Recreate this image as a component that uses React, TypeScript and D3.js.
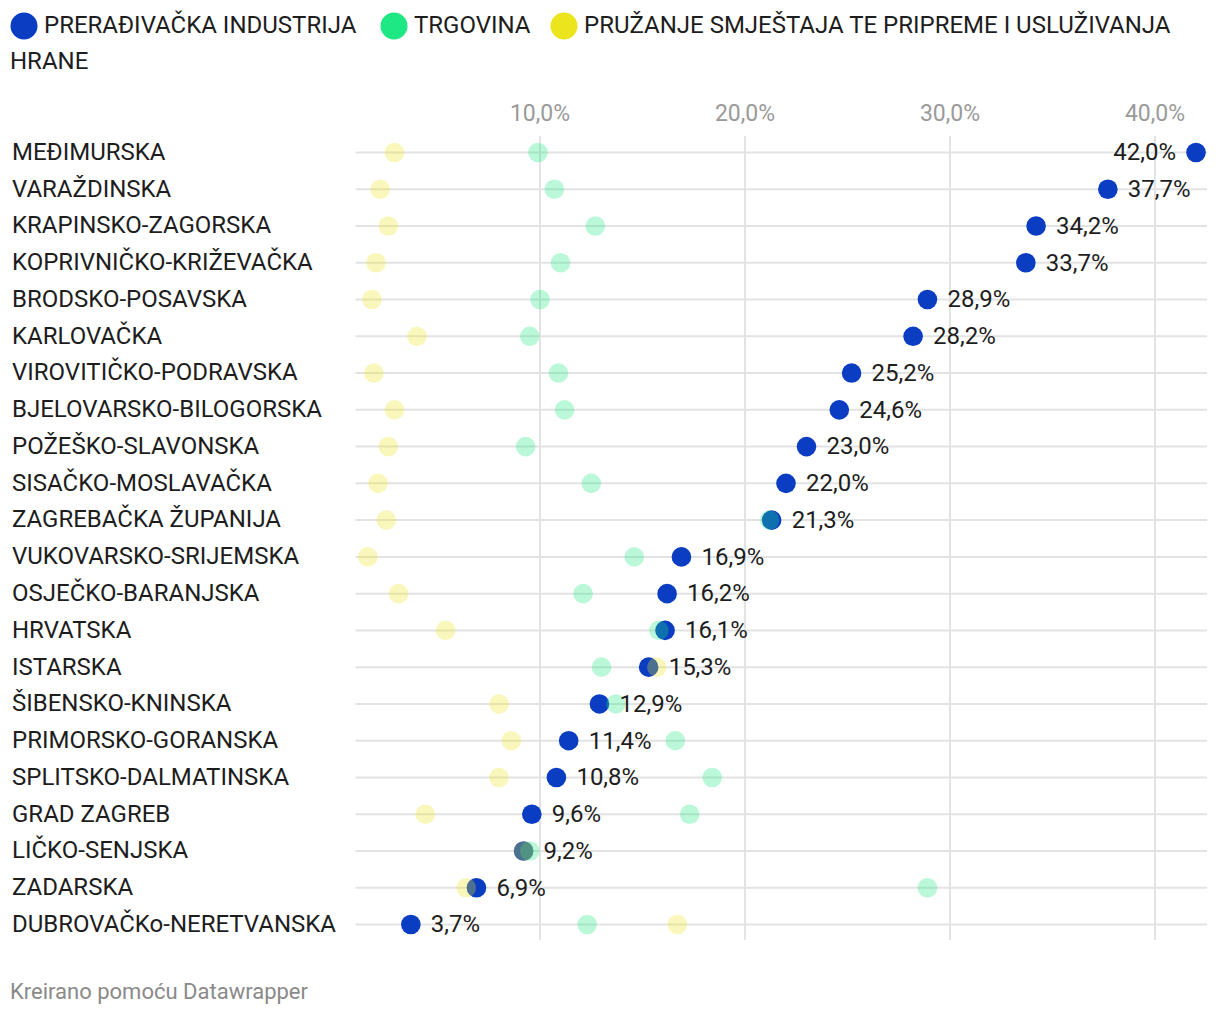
import React from "react";
import * as d3 from "d3";

const counties = [
  "MEĐIMURSKA", "VARAŽDINSKA", "KRAPINSKO-ZAGORSKA", "KOPRIVNIČKO-KRIŽEVAČKA",
  "BRODSKO-POSAVSKA", "KARLOVAČKA", "VIROVITIČKO-PODRAVSKA", "BJELOVARSKO-BILOGORSKA",
  "POŽEŠKO-SLAVONSKA", "SISAČKO-MOSLAVAČKA", "ZAGREBAČKA ŽUPANIJA", "VUKOVARSKO-SRIJEMSKA",
  "OSJEČKO-BARANJSKA", "HRVATSKA", "ISTARSKA", "ŠIBENSKO-KNINSKA",
  "PRIMORSKO-GORANSKA", "SPLITSKO-DALMATINSKA", "GRAD ZAGREB", "LIČKO-SENJSKA",
  "ZADARSKA", "DUBROVAČKo-NERETVANSKA",
];
const preradjivacka = [42.0, 37.7, 34.2, 33.7, 28.9, 28.2, 25.2, 24.6, 23.0, 22.0, 21.3, 16.9, 16.2, 16.1, 15.3, 12.9, 11.4, 10.8, 9.6, 9.2, 6.9, 3.7];
const trgovina = [9.9, 10.7, 12.7, 11.0, 10.0, 9.5, 10.9, 11.2, 9.3, 12.5, 21.2, 14.6, 12.1, 15.8, 13.0, 13.7, 16.6, 18.4, 17.3, 9.5, 28.9, 12.3];
const smjestaj = [2.9, 2.2, 2.6, 2.0, 1.8, 4.0, 1.9, 2.9, 2.6, 2.1, 2.5, 1.6, 3.1, 5.4, 15.7, 8.0, 8.6, 8.0, 4.4, 9.2, 6.4, 16.7];
const ticks = [10, 20, 30, 40];
const seriesNames = ["PRERAĐIVAČKA INDUSTRIJA", "TRGOVINA", "PRUŽANJE SMJEŠTAJA TE PRIPREME I USLUŽIVANJA"];

const BLUE = "#0a3dc2";
const GREEN = "#1ee883";
const YELLOW = "#ece41d";

export default function App() {
  const W = 1220, H = 1018;
  const x = d3.scaleLinear().domain([1, 42.5]).range([355.5, 1206.25]);
  const y = d3.scalePoint<string>().domain(counties).range([152.5, 924.5]);
  const fmt = (v: number) => v.toFixed(1).replace(".", ",") + "%";
  const font = "Roboto, sans-serif";
  const r = 9.8;

  return (
    <svg width={W} height={H} style={{ position: "absolute", left: 0, top: 0, background: "#fff" }} fontFamily={font}>
      {/* legend */}
      <g fontSize={24} fill="#1d1d1d">
        <circle cx={24} cy={26} r={13.5} fill={BLUE} />
        <text x={44} y={27} dominantBaseline="middle">{seriesNames[0]}</text>
        <circle cx={394} cy={26} r={13.5} fill={GREEN} />
        <text x={414} y={27} dominantBaseline="middle">{seriesNames[1]}</text>
        <circle cx={564} cy={26} r={13.5} fill={YELLOW} />
        <text x={584} y={27} dominantBaseline="middle">{seriesNames[2]}</text>
        <text x={10} y={63} dominantBaseline="middle">HRANE</text>
      </g>
      {/* vertical grid */}
      {ticks.map((t) => (
        <g key={t}>
          <line x1={x(t)} x2={x(t)} y1={136} y2={940} stroke="#e3e3e3" strokeWidth={2} />
          <text x={x(t)} y={115} textAnchor="middle" dominantBaseline="middle" fontSize={23} fill="#9a9a9a">
            {fmt(t)}
          </text>
        </g>
      ))}
      {/* rows */}
      {counties.map((c) => (
        <g key={c}>
          <line x1={355.5} x2={1207} y1={y(c)!} y2={y(c)!} stroke="#e3e3e3" strokeWidth={2} />
          <text x={12} y={y(c)! + 1} dominantBaseline="middle" fontSize={24} fill="#1d1d1d">{c}</text>
        </g>
      ))}
      {/* dots */}
      {counties.map((c, i) => (
        <circle key={"b" + c} cx={x(preradjivacka[i])} cy={y(c)!} r={r} fill={BLUE} />
      ))}
      {counties.map((c, i) => (
        <circle key={"g" + c} cx={x(trgovina[i])} cy={y(c)!} r={r} fill={GREEN} fillOpacity={0.3} />
      ))}
      {counties.map((c, i) => (
        <circle key={"y" + c} cx={x(smjestaj[i])} cy={y(c)!} r={r} fill={YELLOW} fillOpacity={0.3} />
      ))}
      {/* value labels */}
      {counties.map((c, i) => {
        const v = preradjivacka[i];
        const left = x(v) + 40 > 1210;
        return (
          <text
            key={"l" + c}
            x={left ? x(v) - 20 : x(v) + 20}
            y={y(c)! + 1.5}
            textAnchor={left ? "end" : "start"}
            dominantBaseline="middle"
            fontSize={24}
            fill="#1d1d1d"
          >
            {fmt(v)}
          </text>
        );
      })}
      <text x={10} y={993} dominantBaseline="middle" fontSize={22} fill="#8a8a8a">Kreirano pomoću Datawrapper</text>
    </svg>
  );
}
